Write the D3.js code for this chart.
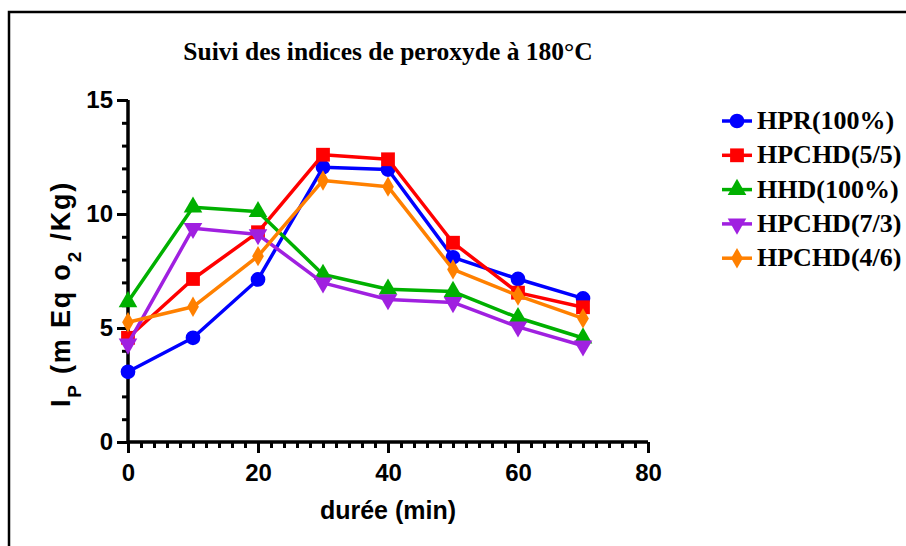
<!DOCTYPE html>
<html>
<head>
<meta charset="utf-8">
<script src="https://cdn.jsdelivr.net/npm/d3@7"></script>
<style>
  body { margin: 0; background: #fff; }
  svg { display: block; }
</style>
</head>
<body>
<svg id="chart" width="906" height="546"></svg>
<script>
// donnees
const durees = [0, 10, 20, 30, 40, 50, 60, 70];
const hpr100 = [3.08, 4.57, 7.13, 12.05, 11.95, 8.1, 7.15, 6.3];
const hpchd55 = [4.57, 7.15, 9.2, 12.6, 12.4, 8.74, 6.55, 5.91];
const hhd100 = [6.15, 10.3, 10.1, 7.35, 6.7, 6.6, 5.45, 4.56];
const hpchd73 = [4.3, 9.37, 9.1, 6.98, 6.25, 6.12, 5.05, 4.22];
const hpchd46 = [5.25, 5.93, 8.15, 11.47, 11.2, 7.57, 6.42, 5.42];
const xTicks = [0, 20, 40, 60, 80];
const yTicks = [0, 5, 10, 15];

const series = [
  { nom: "HPR(100%)", valeurs: hpr100, couleur: "#0000ff", symbole: d3.symbolCircle, taille: 170 },
  { nom: "HPCHD(5/5)", valeurs: hpchd55, couleur: "#ff0000", symbole: d3.symbolSquare, taille: 190 },
  { nom: "HHD(100%)", valeurs: hhd100, couleur: "#00b000", symbole: d3.symbolTriangle, taille: 150 },
  { nom: "HPCHD(7/3)", valeurs: hpchd73, couleur: "#a020e0", symbole: d3.symbolTriangle, taille: 150, bas: true },
  { nom: "HPCHD(4/6)", valeurs: hpchd46, couleur: "#ff8000", symbole: d3.symbolDiamond, taille: 120 }
];

const svg = d3.select("#chart");
const sans = "'Liberation Sans', Arial, sans-serif";
const serif = "'Liberation Serif', 'Times New Roman', serif";

// cadre (seulement haut et gauche visibles)
svg.append("path")
  .attr("d", "M9,560 L9,12 L920,12")
  .attr("fill", "none")
  .attr("stroke", "#000")
  .attr("stroke-width", 2.5);

const x = d3.scaleLinear().domain([0, 80]).range([128, 648]);
const y = d3.scaleLinear().domain([0, 15]).range([442, 100]);

// titre
svg.append("text")
  .attr("x", 388).attr("y", 60)
  .attr("text-anchor", "middle")
  .style("font-family", serif)
  .style("font-weight", "bold")
  .style("font-size", "25.5px")
  .text("Suivi des indices de peroxyde à 180°C");

// axes : petites graduations puis grandes (groupes separes)
const xMin = svg.append("g").attr("transform", `translate(0,${y(0)})`)
  .call(d3.axisBottom(x).tickValues(d3.range(0, 81, 2)).tickSize(6).tickFormat(""));
const gX = svg.append("g").attr("transform", `translate(0,${y(0)})`)
  .call(d3.axisBottom(x).tickValues(xTicks).tickSize(11).tickPadding(11).tickFormat(d3.format("d")));

const yMin = svg.append("g").attr("transform", `translate(${x(0)},0)`)
  .call(d3.axisLeft(y).tickValues(d3.range(0, 16, 1)).tickSize(6).tickFormat(""));
const gY = svg.append("g").attr("transform", `translate(${x(0)},0)`)
  .call(d3.axisLeft(y).tickValues(yTicks).tickSize(11).tickPadding(4).tickFormat(d3.format("d")));

[xMin, gX, yMin, gY].forEach(g => {
  g.selectAll(".domain").attr("stroke", "#000").attr("stroke-width", 3.5);
  g.selectAll(".tick line").attr("stroke", "#000").attr("stroke-width", 3);
  g.selectAll(".tick text")
    .attr("fill", "#000")
    .style("font-family", sans)
    .style("font-weight", "bold")
    .style("font-size", "24px");
});
gX.select(".domain").attr("d", `M${x(0)},0H${x(80)}`);
xMin.select(".domain").remove();
gY.select(".domain").attr("d", `M0,${y(0)}V${y(15)}`);
yMin.select(".domain").remove();

// titres des axes
svg.append("text")
  .attr("x", 388).attr("y", 519)
  .attr("text-anchor", "middle")
  .style("font-family", sans)
  .style("font-weight", "bold")
  .style("font-size", "25px")
  .text("durée (min)");

const yLab = svg.append("text")
  .attr("transform", "translate(70,294) rotate(-90)")
  .attr("text-anchor", "middle")
  .style("font-family", sans)
  .style("font-weight", "bold")
  .style("font-size", "27px")
  .style("letter-spacing", "1.8px");
yLab.append("tspan").text("I");
yLab.append("tspan").attr("baseline-shift", "sub").style("font-size", "19px").text("P");
yLab.append("tspan").text(" (m Eq o");
yLab.append("tspan").attr("baseline-shift", "sub").style("font-size", "19px").text("2");
yLab.append("tspan").text(" /Kg)");

// courbes
const ligne = d3.line().x((d, i) => x(durees[i])).y(d => y(d));
const symbole = s => d3.symbol().type(s.symbole).size(s.taille);

series.forEach(s => {
  const g = svg.append("g");
  g.append("path")
    .datum(s.valeurs)
    .attr("d", ligne)
    .attr("fill", "none")
    .attr("stroke", s.couleur)
    .attr("stroke-width", 3.5)
    .attr("stroke-linejoin", "round");
  g.selectAll("path.pt")
    .data(s.valeurs)
    .join("path")
    .attr("class", "pt")
    .attr("d", symbole(s))
    .attr("fill", s.couleur)
    .attr("transform", (d, i) => `translate(${x(durees[i])},${y(d)})${s.bas ? " rotate(180)" : ""}`);
});

// legende
const leg = svg.append("g");
series.forEach((s, i) => {
  const ly = 121 + i * 34.3;
  leg.append("line")
    .attr("x1", 722).attr("x2", 752)
    .attr("y1", ly).attr("y2", ly)
    .attr("stroke", s.couleur).attr("stroke-width", 3.5);
  leg.append("path")
    .attr("d", symbole(s))
    .attr("fill", s.couleur)
    .attr("transform", `translate(737,${ly})${s.bas ? " rotate(180)" : ""}`);
  leg.append("text")
    .attr("x", 757).attr("y", ly + 8)
    .style("font-family", serif)
    .style("font-weight", "bold")
    .style("font-size", "26px")
    .text(s.nom);
});
</script>
</body>
</html>
